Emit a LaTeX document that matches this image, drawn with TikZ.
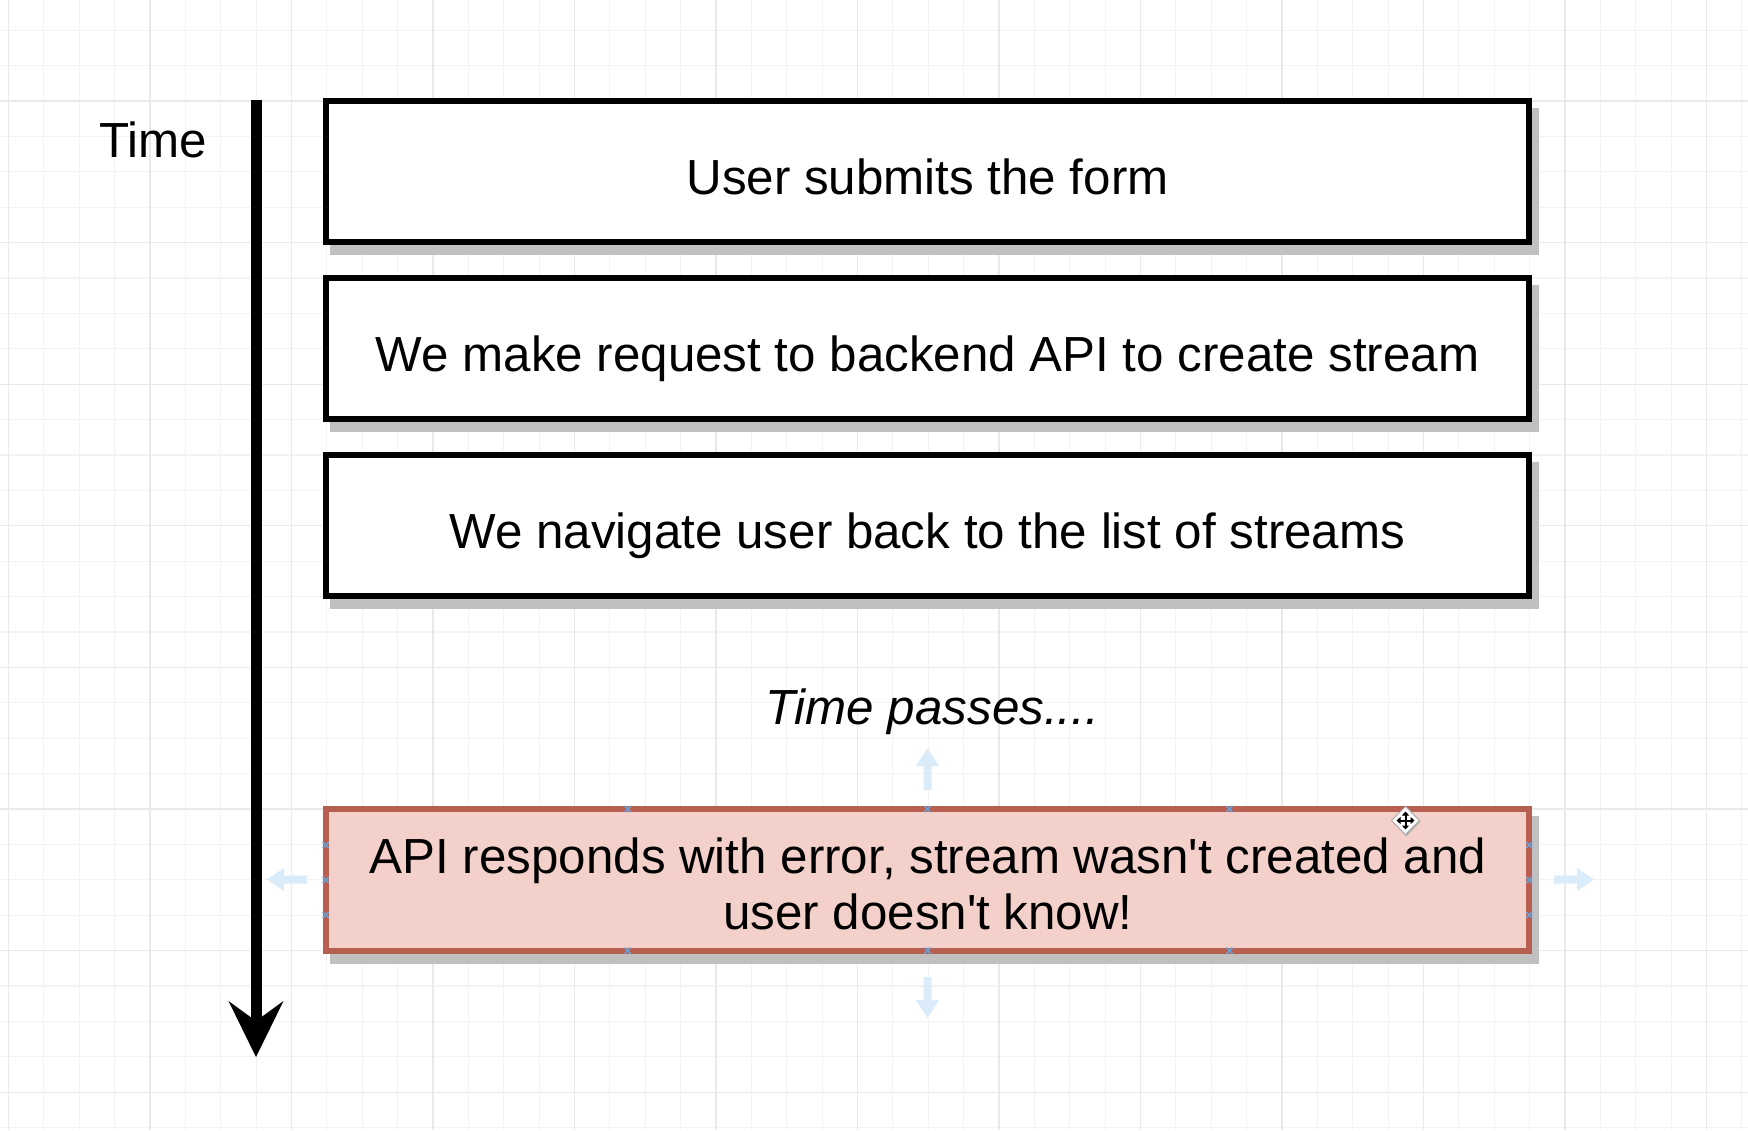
\documentclass[tikz,border=0pt]{standalone}
\usepackage{fontspec}
\newfontfamily\lsans{Liberation Sans}
\usetikzlibrary{arrows.meta,calc}
\definecolor{gridminor}{HTML}{F3F3F3}
\definecolor{gridmajor}{HTML}{E9E9E9}
\definecolor{shadowc}{HTML}{C0C0C0}
\definecolor{redfill}{HTML}{F4D0CA}
\definecolor{redline}{HTML}{B8604F}
\definecolor{uiblue}{HTML}{DAEBFA}
\definecolor{uimark}{HTML}{6E9FD0}
\pgfdeclarelayer{back}
\pgfdeclarelayer{shadowlayer}
\pgfsetlayers{back,shadowlayer,main}
\begin{document}
\begin{tikzpicture}[x=1pt,y=-1pt,
  bigfont/.style={font=\lsans\fontsize{49.3}{56}\selectfont},
  stepbox/.style={draw=black, line width=6pt, fill=white, minimum width=1203.6pt,
    minimum height=141.6pt, inner sep=0pt, text height=60pt, text depth=14pt, bigfont},
  errbox/.style={stepbox, draw=redline, fill=redfill},
  plaintext/.style={inner sep=0pt, bigfont},
  gridminorline/.style={draw=gridminor, line width=1.1pt},
  gridmajorline/.style={draw=gridmajor, line width=1.2pt},
  timearrow/.style={line width=11pt, -{Stealth[length=56pt,width=55pt,inset=20pt,line width=0pt]}},
  uimarker/.style={draw=uimark, line width=1.6pt},
]
\useasboundingbox (0,0) rectangle (1748,1130);
\begin{pgfonlayer}{back}
  \fill[white] (0,0) rectangle (1748,1130);
  \foreach \i in {0,...,49} \draw[gridminorline] ({8.5+35.375*\i},0) -- ({8.5+35.375*\i},1130);
  \foreach \k in {0,...,31} \draw[gridminorline] (0,{30.2+35.4*\k}) -- (1748,{30.2+35.4*\k});
  \foreach \i in {0,...,12} \draw[gridmajorline] ({8.5+141.5*\i},0) -- ({8.5+141.5*\i},1130);
  \foreach \k in {0,...,7} \draw[gridmajorline] (0,{101+141.6*\k}) -- (1748,{101+141.6*\k});
\end{pgfonlayer}

% time axis
\coordinate (ttop) at (256,100);
\coordinate (tend) at (256,1057);
\draw[timearrow] (ttop) -- (tend);
\node[plaintext, anchor=base west] (timelbl) at (99,157) {Time};

% boxes
\node[stepbox] (b1) at (927.5,171.5) {User submits the form};
\node[stepbox] (b2) at (927.5,348.5) {We make request to backend API to create stream};
\node[stepbox] (b3) at (927.5,525.5) {We navigate user back to the list of streams};
\node[plaintext, anchor=base, font=\lsans\fontsize{49.3}{56}\selectfont\itshape] (tp) at (932,724) {Time passes....};
\node[errbox] (b4) at (927.5,879.8) {};
\node[plaintext, align=center, anchor=center] (b4txt) at (928,884) {API responds with error, stream wasn't created and\\user doesn't know!};

\begin{pgfonlayer}{shadowlayer}
  \foreach \b in {b1,b2,b3,b4}
    \fill[shadowc] ($(\b.north west)+(7,10)$) rectangle ($(\b.south east)+(7,10)$);
\end{pgfonlayer}

% selection handles (editor overlay)
\fill[uiblue] (307,875.5) -- (284,875.5) -- (284,868) -- (267,879.5) -- (284,891) -- (284,883.5) -- (307,883.5) -- cycle;
\fill[uiblue] (1554,875.5) -- (1577,875.5) -- (1577,868) -- (1594,879.5) -- (1577,891) -- (1577,883.5) -- (1554,883.5) -- cycle;
\fill[uiblue] (923.5,790) -- (923.5,766) -- (916,766) -- (927.5,748) -- (939,766) -- (931.5,766) -- (931.5,790) -- cycle;
\fill[uiblue] (923.5,977) -- (923.5,1000) -- (916,1000) -- (927.5,1018) -- (939,1000) -- (931.5,1000) -- (931.5,977) -- cycle;
\foreach \p in {(627.7,809),(927.5,809),(1229.5,809),(627.7,950.6),(927.5,950.6),(1229.5,950.6),
                (325.7,845),(325.7,880),(325.7,915),(1529.3,845),(1529.3,880),(1529.3,915)}
  \draw[uimarker] \p +(-3,-3) -- +(3,3) \p +(-3,3) -- +(3,-3);

% move cursor
\coordinate (cur) at (1405.5,820.5);
\fill[gray!60] ($(cur)+(1,-14)$) -- ($(cur)+(15,1)$) -- ($(cur)+(1,16)$) -- ($(cur)+(-13,1)$) -- cycle;
\filldraw[fill=white, draw=gray!70, line width=0.8pt] ($(cur)+(0,-14)$) -- ($(cur)+(14,0)$) -- ($(cur)+(0,14)$) -- ($(cur)+(-14,0)$) -- cycle;
\draw[line width=2pt, {Triangle[length=4pt,width=7pt]}-{Triangle[length=4pt,width=7pt]}] ($(cur)+(-9,0)$) -- ($(cur)+(9,0)$);
\draw[line width=2pt, {Triangle[length=4pt,width=7pt]}-{Triangle[length=4pt,width=7pt]}] ($(cur)+(0,-9)$) -- ($(cur)+(0,9)$);
\end{tikzpicture}
\end{document}
